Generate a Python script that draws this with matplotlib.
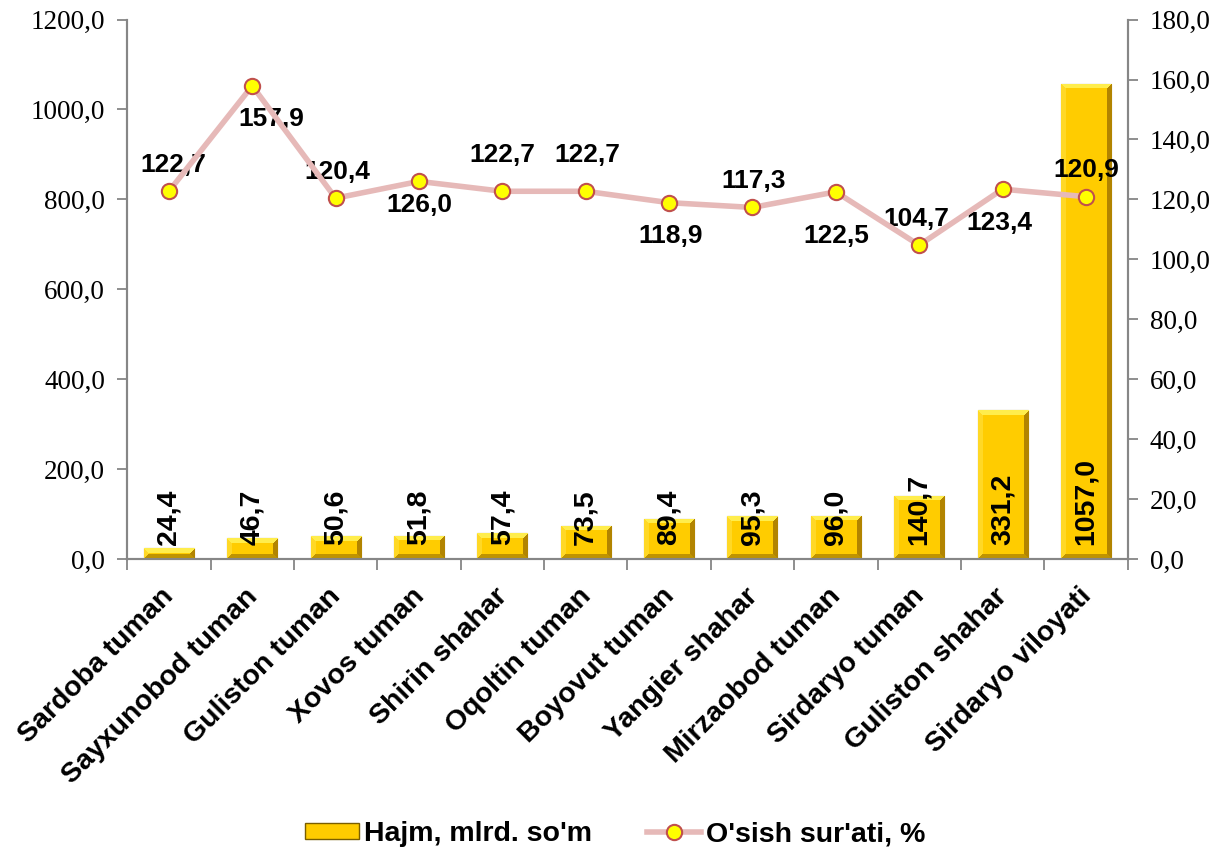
import matplotlib
matplotlib.use('Agg')
import matplotlib.pyplot as plt
from matplotlib.ticker import FuncFormatter
from matplotlib.lines import Line2D
from matplotlib.patches import Patch
from matplotlib.transforms import ScaledTranslation
import numpy as np

# data
districts = ['Sardoba tuman', 'Sayxunobod tuman', 'Guliston tuman', 'Xovos tuman',
             'Shirin shahar', 'Oqoltin tuman', 'Boyovut tuman', 'Yangier shahar',
             'Mirzaobod tuman', 'Sirdaryo tuman', 'Guliston shahar', 'Sirdaryo viloyati']
hajm = [24.4, 46.7, 50.6, 51.8, 57.4, 73.5, 89.4, 95.3, 96.0, 140.7, 331.2, 1057.0]
osish = [122.7, 157.9, 120.4, 126.0, 122.7, 122.7, 118.9, 117.3, 122.5, 104.7, 123.4, 120.9]

# label offsets (points) for growth labels
lab_off = [(3, 19), (14, -24), (1, 19), (0, -17), (0, 26), (1, 26),
           (1, -24), (1, 19), (0, -32), (-2, 19), (-2, -24), (0, 19)]

comma = FuncFormatter(lambda v, p: ('%.1f' % v).replace('.', ','))
serif = 'Liberation Serif'
sans = 'Liberation Sans'
grey = '#868686'

fig = plt.figure(figsize=(12.23, 8.52), dpi=100)
ax = fig.add_axes([0.104, 0.344, 0.818, 0.633])
ax2 = ax.twinx()
x = np.arange(len(districts))

ax.set_xlim(-0.5, len(districts) - 0.5)
ax.set_ylim(0, 1200)
ax2.set_ylim(0, 180)

bars = ax.bar(x, hajm, width=0.6, color='#FFCC00', edgecolor='#7A5E00', linewidth=0.8, zorder=2)


def bevel(w, h, bv=5):
    img = np.zeros((h, w, 3))
    img[:, :] = [1.0, 0.80, 0.0]
    jj, ii = np.meshgrid(np.arange(w), np.arange(h))
    top = ii < bv
    bot = ii >= h - bv
    left = (jj < bv) & ~top & ~bot
    right = (jj >= w - bv) & ~top & ~bot
    img[left] = [1.0, 0.85, 0.15]
    img[right] = [0.70, 0.52, 0.0]
    img[top] = [1.0, 0.93, 0.30]
    img[bot] = [0.75, 0.58, 0.0]
    img[top & (jj < ii)] = [1.0, 0.85, 0.15]
    img[top & (w - 1 - jj < ii)] = [0.70, 0.52, 0.0]
    img[bot & (jj < h - 1 - ii)] = [1.0, 0.85, 0.15]
    img[bot & (w - 1 - jj < h - 1 - ii)] = [0.70, 0.52, 0.0]
    return img


# bevel shading for the bars
fig.canvas.draw()
for b in bars:
    x0, y0 = b.get_x(), b.get_y()
    x1, y1 = x0 + b.get_width(), y0 + b.get_height()
    (px0, py0), (px1, py1) = ax.transData.transform([(x0, y0), (x1, y1)])
    w = max(int(round(px1 - px0)), 2)
    h = max(int(round(py1 - py0)), 2)
    bv = min(5, h // 2, w // 2)
    im = ax.imshow(bevel(w, h, bv), extent=(x0, x1, y0, y1), aspect='auto', zorder=2.5,
                   interpolation='nearest')
    im.set_clip_path(b)
    ax.text(b.get_x() + b.get_width() / 2, 30, ('%.1f' % b.get_height()).replace('.', ','),
            rotation=90, ha='center', va='bottom', fontsize=20.5, fontweight='bold',
            family=sans, zorder=5)
ax.set_aspect('auto')
ax.set_xlim(-0.5, len(districts) - 0.5)
ax.set_ylim(0, 1200)

ax2.plot(x, osish, color='#E6B9B8', lw=4, marker='o', ms=11, mfc='#FFFF00',
         mec='#C0504D', mew=1.5, zorder=4)
for xi, v, off in zip(x, osish, lab_off):
    ax2.annotate(('%.1f' % v).replace('.', ','), (xi, v), xytext=off, textcoords='offset points',
                 ha='center', va='center', fontsize=19, fontweight='bold', family=sans)

ax.set_yticks(np.arange(0, 1201, 200))
ax2.set_yticks(np.arange(0, 181, 20))
ax.yaxis.set_major_formatter(comma)
ax2.yaxis.set_major_formatter(comma)
for a in (ax, ax2):
    a.tick_params(axis='y', labelsize=19.5, length=7, width=1.3, color=grey, pad=9)
    for lab in a.get_yticklabels():
        lab.set_family(serif)
    a.spines['top'].set_visible(False)
    for s in ('left', 'right', 'bottom'):
        a.spines[s].set_color(grey)
        a.spines[s].set_linewidth(1.5)

ax.set_xticks(np.arange(-0.5, len(districts), 1))
ax.set_xticklabels([])
ax.tick_params(axis='x', which='major', length=8, width=1.3, color=grey)
ax.set_xticks(x, minor=True)
ax.set_xticklabels(districts, minor=True, rotation=45, ha='right', rotation_mode='anchor',
                   fontsize=20.5, fontweight='bold', family=sans)
ax.tick_params(axis='x', which='minor', length=0, pad=14)
shift = ScaledTranslation(-0.08, -0.05, fig.dpi_scale_trans)
for lab in ax.get_xticklabels(minor=True):
    lab.set_transform(lab.get_transform() + shift)

handles = [Patch(facecolor='#FFCC00', edgecolor='#7A5E00', label="Hajm, mlrd. so'm"),
           Line2D([], [], color='#E6B9B8', lw=4, marker='o', ms=11, mfc='#FFFF00',
                  mec='#C0504D', mew=1.5, label="O'sish sur'ati, %")]
fig.legend(handles=handles, loc='center', bbox_to_anchor=(0.503, 0.021), ncol=2, frameon=False,
           prop={'family': sans, 'weight': 'bold', 'size': 20.5}, handlelength=1.9,
           handleheight=0.5, columnspacing=1.9, handletextpad=0.2)

fig.savefig('out.png', dpi=100)
plt.close(fig)
